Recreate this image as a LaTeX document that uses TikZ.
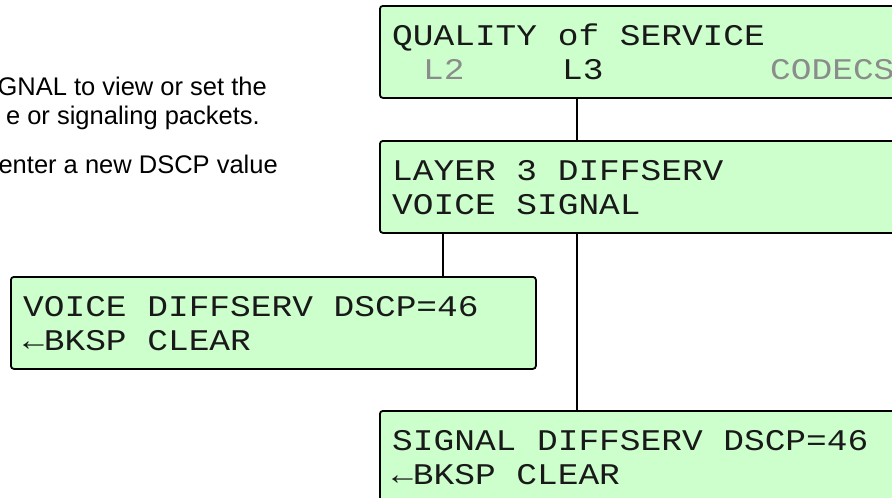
\documentclass[tikz,border=0pt]{standalone}
\usepackage{fontspec}
\setmainfont{Liberation Sans}
\newfontfamily\lcdfont[FakeStretch=1.15]{Liberation Mono}
\definecolor{lcdgreen}{HTML}{CCFFCC}
\definecolor{lcdgray}{HTML}{8C8C8C}
\begin{document}
\begin{tikzpicture}[x=1pt,y=-1pt,
  lcd/.style={draw=black, line width=1.8pt, fill=lcdgreen, rounded corners=3pt,
    minimum width=525pt, minimum height=92pt, inner sep=0pt, anchor=north west},
  lcdtxt/.style={font=\lcdfont\fontsize{30}{33}\selectfont, anchor=base west,
    inner sep=0pt, text=black!90},
  dim/.style={text=lcdgray},
  link/.style={line width=1.6pt},
  note/.style={font=\fontsize{25.5}{29}\selectfont, anchor=base east, inner sep=0pt}]
\useasboundingbox (0,0) rectangle (892,498);
\clip (0,0) rectangle (892,498);
\fill[white] (0,0) rectangle (892,498);

\node[lcd] (qos) at (379,5) {};
\node[lcd] (l3) at (379,140) {};
\node[lcd] (voice) at (10,276) {};
\node[lcd] (signal) at (379,410) {};

\node[lcdtxt] (qos1) at ([xshift=13pt,yshift=-40pt]qos.north west) {QUALITY of SERVICE};
\node[lcdtxt,dim] (qos2) at ([xshift=44pt,yshift=-74pt]qos.north west) {L2};
\node[lcdtxt] (qos3) at ([xshift=183pt,yshift=-74pt]qos.north west) {L3};
\node[lcdtxt,dim] (qos4) at ([xshift=391pt,yshift=-74pt]qos.north west) {CODECS};

\node[lcdtxt] (l31) at ([xshift=13pt,yshift=-40pt]l3.north west) {LAYER 3 DIFFSERV};
\node[lcdtxt] (l32) at ([xshift=13pt,yshift=-74pt]l3.north west) {VOICE SIGNAL};

\node[lcdtxt] (v1) at ([xshift=13pt,yshift=-40pt]voice.north west) {VOICE DIFFSERV DSCP=46};
\node[lcdtxt] (v2) at ([xshift=13pt,yshift=-74pt]voice.north west) {←BKSP CLEAR};

\node[lcdtxt] (s1) at ([xshift=13pt,yshift=-40pt]signal.north west) {SIGNAL DIFFSERV DSCP=46};
\node[lcdtxt] (s2) at ([xshift=13pt,yshift=-74pt]signal.north west) {←BKSP CLEAR};

\coordinate (xa) at (577,0);
\coordinate (xb) at (443,0);
\draw[link] (qos.south -| xa) -- (l3.north -| xa);
\draw[link] (l3.south -| xb) -- (voice.north -| xb);
\draw[link] (l3.south -| xa) -- (signal.north -| xa);

\node[note] (n1) at (267,95) {GNAL to view or set the};
\node[note] (n2) at (260,124) {e or signaling packets.};
\node[note] (n3) at (278,173) {enter a new DSCP value};
\end{tikzpicture}
\end{document}
